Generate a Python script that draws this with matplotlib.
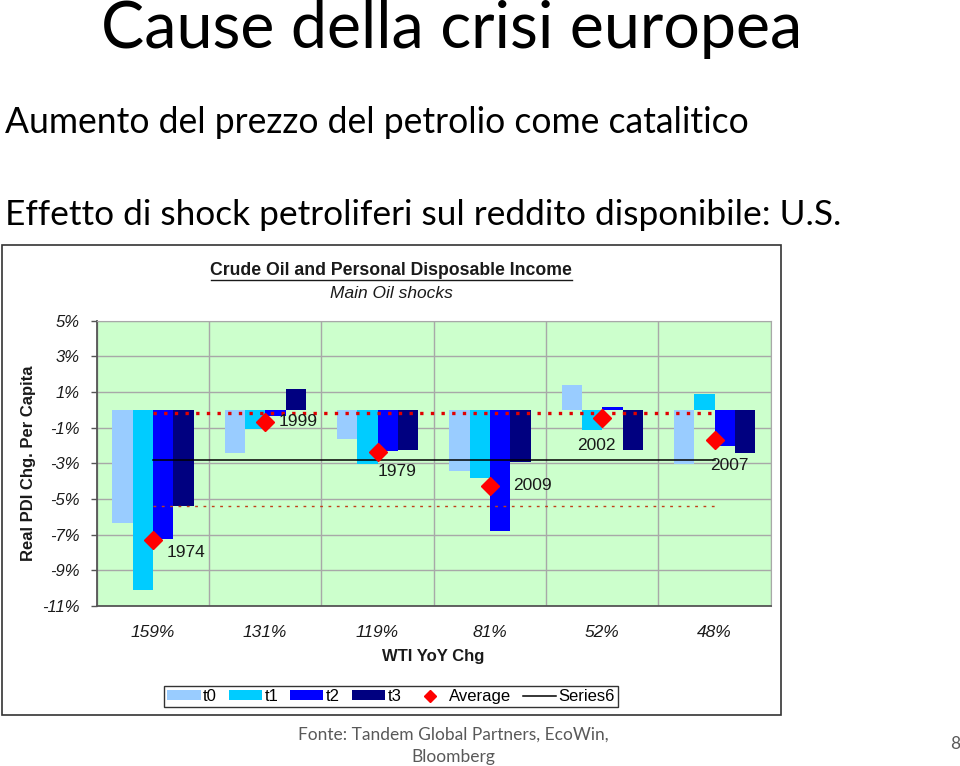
import matplotlib
matplotlib.use("Agg")
import matplotlib.pyplot as plt
import numpy as np
from matplotlib.patches import Rectangle
from matplotlib.lines import Line2D
from matplotlib.patches import Patch

# ---------------- data ----------------
categories = ["159%", "131%", "119%", "81%", "52%", "48%"]
years = ["1974", "1999", "1979", "2009", "2002", "2007"]
t0 = [-6.38, -2.40, -1.65, -3.41, 1.37, -3.05]
t1 = [-10.13, -1.05, -3.05, -3.82, -1.11, 0.87]
t2 = [-7.24, -0.35, -2.31, -6.82, 0.16, -2.04]
t3 = [-5.42, 1.17, -2.27, -2.92, -2.27, -2.40]
average = [-7.31, -0.68, -2.36, -4.27, -0.46, -1.67]
series6 = [-2.79] * 6
upper_ref = [-0.18] * 6
lower_ref = [-5.42] * 6
yticks = [5, 3, 1, -1, -3, -5, -7, -9, -11]
series_names = ["t0", "t1", "t2", "t3"]
series_colors = ["#99CCFF", "#00CCFF", "#0000FF", "#000080"]

W, H = 960, 766
fig = plt.figure(figsize=(W / 100, H / 100), dpi=100)
fig.patch.set_facecolor("white")

def fx(px):
    return px / W

def fy(py):
    return 1 - py / H

sans = ["Lato", "DejaVu Sans"]
chartfont = ["Liberation Sans", "DejaVu Sans"]

# slide texts
fig.text(fx(452), fy(48), "Cause della crisi europea", fontsize=46.5, family=sans,
         ha="center", va="baseline", color="black")
fig.text(fx(5), fy(133), "Aumento del prezzo del petrolio come catalitico", fontsize=25.6,
         family=sans, ha="left", va="baseline", color="black")
fig.text(fx(5), fy(225), "Effetto di shock petroliferi sul reddito disponibile: U.S.",
         fontsize=25.4, family=sans, ha="left", va="baseline", color="black")
fig.text(fx(453), fy(746), "Fonte: Tandem Global Partners, EcoWin,\nBloomberg", fontsize=12.5,
         family=sans, ha="center", va="center", color="#595959", linespacing=1.45)
fig.text(fx(955), fy(744), "8", fontsize=12.5, family=sans, ha="center", va="center",
         color="#595959")

# chart frame
fig.patches.append(Rectangle((fx(2), fy(714.5)), fx(779), (714.5 - 245) / H,
                             transform=fig.transFigure, fill=False, edgecolor="#333333",
                             linewidth=1.2, zorder=0))

fig.text(fx(391), fy(271), "Crude Oil and Personal Disposable Income", fontsize=12.7,
         family=chartfont, fontweight="bold", ha="center", va="center", color="#1a1a1a")
fig.lines.append(Line2D([fx(211), fx(572)], [fy(279.5), fy(279.5)], transform=fig.transFigure,
                        color="#1a1a1a", linewidth=1))
fig.text(fx(391), fy(294), "Main Oil shocks", fontsize=12.5, family=chartfont,
         style="italic", ha="center", va="center", color="#1a1a1a")

# plot area
left, right, top, bottom = 96.7, 770.7, 320.7, 605.8
ax = fig.add_axes([fx(left), fy(bottom), (right - left) / W, (bottom - top) / H])
ax.set_facecolor("#CCFFCC")
ax.set_xlim(-0.5, 5.5)
ax.set_ylim(-11, 5)

x = np.arange(len(categories))
w = 0.181
for j, (vals, c) in enumerate(zip([t0, t1, t2, t3], series_colors)):
    ax.bar(x + (j - 1.5) * w, vals, width=w, color=c, zorder=3, linewidth=0,
           label=series_names[j])

ax.plot(x, upper_ref, color="#E00000", linestyle=(0, (1, 2.2)), linewidth=2.4, zorder=4)
ax.plot(x, lower_ref, color="#C0401A", linestyle=(0, (2, 4)), linewidth=1.0, zorder=4)
ax.plot(x, series6, color="black", linewidth=1.1, zorder=4)
ax.plot(x, average, linestyle="none", marker="D", markersize=9, color="#FF0000",
        markeredgecolor="#FF0000", zorder=5)

label_offsets = [(10, -9), (10, 0), (0, -14), (17, 0), (-18, -20), (-3, -19)]
for i, (yv, lab) in enumerate(zip(average, years)):
    dx, dy = label_offsets[i]
    ax.annotate(lab, (x[i], yv), xytext=(dx, dy), textcoords="offset points",
                fontsize=12.5, family=chartfont, ha="left", va="center", color="#1a1a1a",
                zorder=6)

ax.set_yticks(yticks)
ax.set_yticklabels([f"{v}%" for v in yticks], fontsize=12, family=chartfont,
                   style="italic", color="#1a1a1a")
ax.set_xticks(x)
ax.set_xticklabels(categories, fontsize=12.5, family=chartfont, style="italic",
                   color="#1a1a1a")
ax.tick_params(axis="x", length=0, pad=14)
ax.tick_params(axis="y", length=4, width=1, color="#555555", pad=8)
ax.set_xticks(np.arange(-0.5, 5.6, 1), minor=True)
ax.tick_params(axis="x", which="minor", length=0)
ax.grid(True, axis="y", which="major", color="#A8A8A8", linewidth=1, zorder=0)
ax.grid(True, axis="x", which="minor", color="#A8A8A8", linewidth=1, zorder=0)
ax.set_axisbelow(True)
for side in ["top", "right"]:
    ax.spines[side].set_color("#A8A8A8")
for side in ["left", "bottom"]:
    ax.spines[side].set_color("#555555")
    ax.spines[side].set_linewidth(1.3)

ax.set_ylabel("Real PDI Chg. Per Capita", fontsize=12, family=chartfont,
              fontweight="bold", color="#1a1a1a")
ax.yaxis.set_label_coords(-(96.7 - 28) / (right - left), 0.5)
ax.yaxis.label.set_va("center")
ax.set_xlabel("WTI YoY Chg", fontsize=12, family=chartfont, fontweight="bold",
              color="#1a1a1a")
ax.xaxis.set_label_coords((433 - left) / (right - left), -(657 - bottom) / (bottom - top))
ax.xaxis.label.set_va("center")

handles = [Patch(facecolor=c, edgecolor="none") for c in series_colors]
handles.append(Line2D([], [], linestyle="none", marker="D", markersize=6, color="#FF0000"))
handles.append(Line2D([], [], color="black", linewidth=1.1))
labels = series_names + ["Average", "Series6"]
leg = fig.legend(handles, labels, loc="center", bbox_to_anchor=(fx(391), fy(696.5)),
                 ncol=6, frameon=True, fancybox=False, edgecolor="black",
                 prop={"family": chartfont, "size": 12}, handlelength=2.0,
                 handletextpad=0.15, columnspacing=0.7, borderpad=0.2,
                 handleheight=0.55)
leg.get_frame().set_linewidth(1.0)

fig.savefig("out.png", dpi=100, facecolor="white")
